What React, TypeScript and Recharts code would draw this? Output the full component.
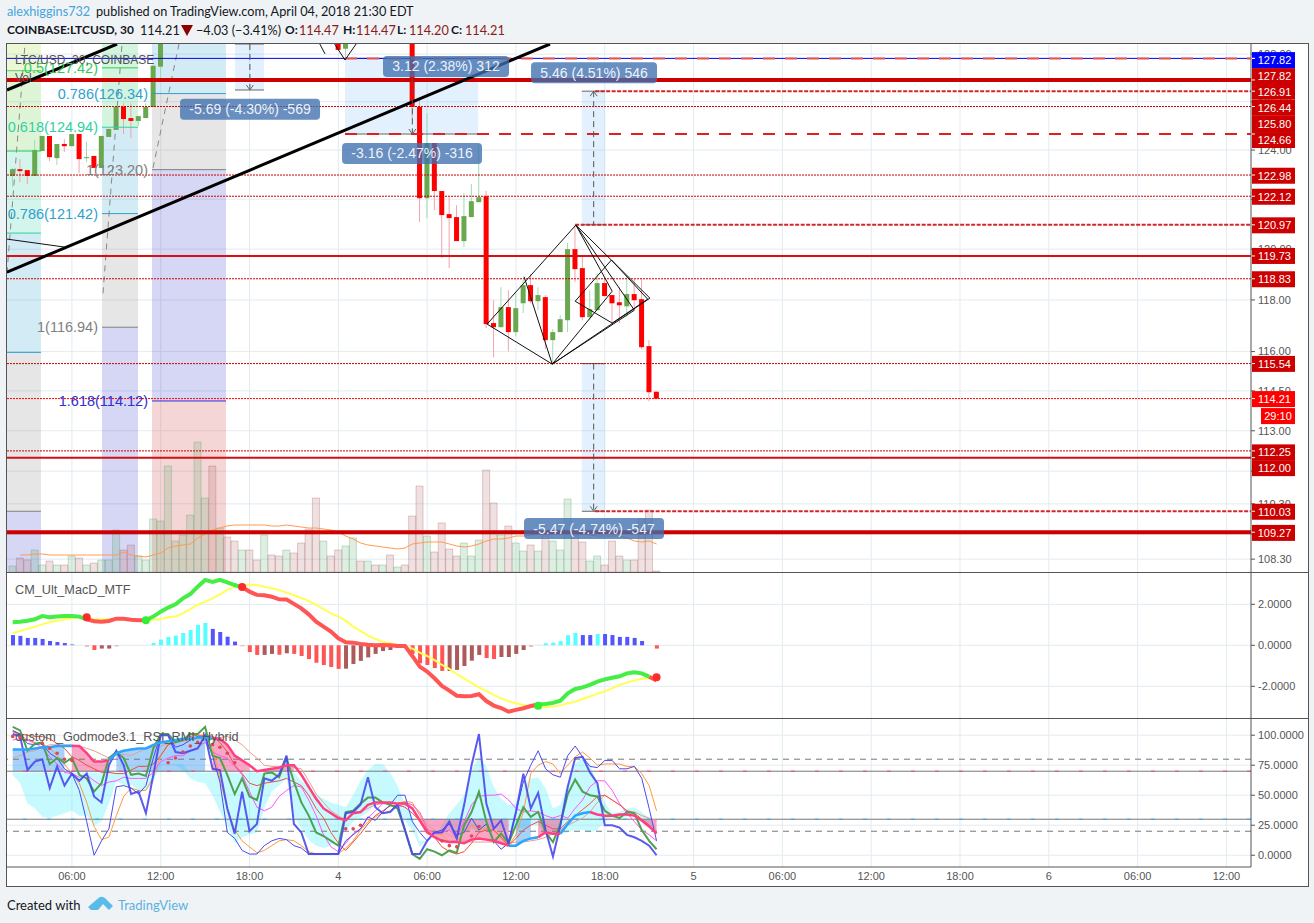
import React from 'react';
import { ComposedChart, Bar, Line, Area, Cell, XAxis, YAxis, CartesianGrid, ReferenceLine, ReferenceArea, ReferenceDot } from 'recharts';

const N = null;
// ---- candles (30 min bars), hidden bars above the visible range are null
const candleO = [122.94,123.22,123.18,122.94,123.96,124.58,123.67,124.25,124.16,124.66,123.67,123.76,123.27,124.54,124.83,125.78,125.32,125.20,125.32,125.78,127.47,
N,N,N,N,N,N,N,N,N,N,N,N,N,N,N,N,N,N,N,N,N,N,N,128.70,128.23,N,N,N,N,N,N,N,N,
128.70,125.78,122.04,124.29,122.33,121.40,121.28,120.32,121.28,121.88,122.12,117.10,116.94,117.72,116.75,117.87,118.58,117.95,118.11,116.44,116.75,117.21,120.00,119.25,117.33,117.60,118.66,118.19,117.91,117.75,118.23,118.03,116.21,114.47];
const candleH = [123.27,123.63,123.18,124.41,124.58,124.58,124.25,124.45,124.66,124.66,124.33,123.76,124.58,124.87,125.78,125.94,125.94,125.40,125.94,127.51,128.60,
N,N,N,N,N,N,N,N,N,N,N,N,N,N,N,N,N,N,N,N,N,N,N,128.80,128.60,N,N,N,N,N,N,N,N,
128.80,126.15,125.53,124.29,122.33,122.08,121.76,122.25,122.61,124.24,122.33,117.99,118.50,118.38,118.26,118.78,119.01,118.50,118.19,116.87,117.41,120.24,120.96,119.72,118.38,119.05,118.86,118.19,118.50,118.94,118.82,118.82,116.44,114.47];
const candleL = [122.49,122.69,122.61,122.94,123.96,123.55,123.39,123.92,124.16,123.06,123.51,123.27,123.27,124.54,124.83,124.66,124.50,124.99,125.32,125.78,126.98,
N,N,N,N,N,N,N,N,N,N,N,N,N,N,N,N,N,N,N,N,N,N,N,128.18,127.80,N,N,N,N,N,N,N,N,
125.28,121.08,121.24,121.56,119.65,119.25,120.32,120.08,121.28,121.88,116.90,115.78,116.94,116.01,116.59,117.49,117.87,117.60,116.09,115.56,116.75,116.75,118.70,117.21,117.21,117.60,118.15,117.02,117.10,117.33,117.72,116.09,114.11,114.20];
const candleC = [123.22,123.14,122.94,124.00,124.58,123.71,124.25,124.16,124.66,123.63,123.71,123.27,124.58,124.87,125.78,125.28,125.20,125.40,125.78,127.51,128.60,
N,N,N,N,N,N,N,N,N,N,N,N,N,N,N,N,N,N,N,N,N,N,N,128.18,128.60,N,N,N,N,N,N,N,N,
125.78,122.04,124.29,122.33,121.36,121.24,120.32,121.32,121.92,122.08,117.06,116.94,117.72,116.75,117.68,118.58,117.95,118.19,116.44,116.75,117.25,120.00,119.21,117.33,117.64,118.66,118.15,117.87,117.79,118.23,117.99,116.17,114.45,114.21];

// ---- volume
const volume = [6,14,12,22,7,11,7,7,16,14,7,9,12,12,42,22,27,16,12,53,51,106,31,37,57,130,74,106,44,35,31,22,22,12,37,17,16,22,19,29,43,74,31,16,22,26,34,11,11,7,7,17,5,7,56,86,36,20,49,23,16,29,16,32,102,69,37,46,29,21,27,21,38,31,22,73,38,30,11,16,7,31,16,12,12,53,62,1];
const volumeUp = 'gRRggRgRgR' + 'gRgggRRggg' + 'gggggggRgR' + 'RgRRgRRgRR' + 'RRgRRggRgR' + 'gRgRRRgRRR' + 'RgggRRgRgg' + 'RgRgggRRgg' + 'RRRgRRRR';
const volumeMa = [N,17,17,18,18,17,17,17,17,17,17,17,17,17,17,20,17,16,15,17,19,24,26,27,28,34,38,42,44,46,47,47,47,47,47,46,46,47,46,45,44,44,43,42,40,36,33,29,27,26,25,24,23,24,28,29,30,30,30,28,26,25,26,28,31,33,33,34,36,36,37,38,38,39,38,39,38,38,37,36,36,36,36,34,31,30,31,28];

// ---- MACD pane
const macdLine = [1.12,1.15,1.20,1.27,1.43,1.37,1.41,1.43,1.43,1.40,1.27,1.17,1.15,1.19,1.30,1.30,1.25,1.22,1.22,1.40,1.64,1.84,2.00,2.29,2.50,2.86,3.19,3.09,3.19,3.07,2.94,2.83,2.62,2.46,2.44,2.37,2.24,2.23,2.02,1.80,1.51,1.15,.91,.67,.34,.15,.13,.07,.03,0,.02,0,-.03,-.03,-.52,-1.04,-1.28,-1.61,-1.98,-2.21,-2.46,-2.49,-2.47,-2.39,-2.72,-2.94,-3.06,-3.24,-3.15,-3.07,-2.96,-2.89,-2.86,-2.81,-2.70,-2.34,-2.13,-2.05,-1.93,-1.77,-1.66,-1.58,-1.51,-1.37,-1.32,-1.37,-1.53,-1.72];
const signalLine = [.59,.70,.81,.91,1.02,1.12,1.20,1.27,1.32,1.37,1.32,1.28,1.27,1.27,1.27,1.27,1.27,1.25,1.24,1.24,1.28,1.37,1.41,1.56,1.77,1.97,2.13,2.29,2.49,2.70,2.86,2.93,2.96,2.94,2.86,2.78,2.70,2.57,2.44,2.31,2.16,1.97,1.76,1.56,1.40,1.20,.91,.70,.47,.31,.18,.10,.03,-.03,-.16,-.36,-.52,-.72,-.96,-1.15,-1.41,-1.61,-1.85,-2.05,-2.24,-2.42,-2.59,-2.73,-2.83,-2.91,-2.98,-3.02,-3.02,-2.99,-2.93,-2.83,-2.75,-2.62,-2.50,-2.37,-2.24,-2.10,-1.93,-1.82,-1.72,-1.63,-1.61,-1.66];
const macdHist = [.50,.46,.36,.36,.31,.21,.16,.11,.07,0,-.08,-.23,-.16,-.16,-.06,0,0,0,0,.11,.28,.41,.47,.60,.75,.99,1.09,.80,.65,.42,.18,-.05,-.33,-.47,-.47,-.42,-.46,-.39,-.42,-.52,-.67,-.85,-.96,-1.06,-1.15,-1.14,-.91,-.76,-.59,-.42,-.28,-.23,-.13,-.13,-.42,-.88,-.96,-1.11,-1.25,-1.25,-1.20,-1.01,-.75,-.47,-.62,-.67,-.57,-.57,-.42,-.23,-.08,.03,.10,.13,.20,.49,.60,.50,.50,.55,.55,.50,.41,.41,.36,.21,0,-.16];
const histTones = 'bbbbbbbbbb' + 'rrddr' + 'bbbb' + 'cccccccc' + 'bbbb' + 'r' + 'rrddrdrrrrrrr' + 'ddddddddd' + 'rrrrr' + 'ddddd' + 'rr' + 'dddd' + 'r' + 'cccccc' + 'bb' + 'c' + 'bbbbbb' + 'b' + 'r';
const histPalette: any = { b: '#5555ff', c: '#55ffff', r: '#ff5555', d: '#ad5a5a' };
const macdGreenRuns = [[0, 10], [18, 31], [71, 86]];
const macdRedRuns = [[10, 18], [31, 71], [86, 87]];
const crossBars = [10, 18, 31, 71, 87];
const crossValues = [1.37, 1.22, 2.85, -2.95, -1.56];
const crossColors = ['#ff2a2a', '#33ee33', '#ff2a2a', '#33ee33', '#ff2a2a'];

// ---- RSI pane
const rsiThick = [101,99,71,78,80,56,74,58,68,62,68,49,44,75,87,75,51,53,35,67,100,100,86,85,87,89,100,72,71,39,18,53,20,26,64,62,67,83,26,19,1,1,1,1,1,35,36,42,65,40,35,36,42,21,1,1,12,19,19,28,14,42,75,101,43,22,29,10,36,68,39,52,21,-1,25,57,81,82,69,60,25,25,23,17,15,12,8,0];
const rsiGreen = [107,104,87,93,94,76,81,77,81,67,64,53,60,81,86,81,67,68,66,89,101,101,94,96,101,101,107,83,81,67,51,64,49,46,68,69,65,81,61,44,33,19,16,12,8,36,37,43,48,48,44,42,39,21,1,-3,5,3,0,4,2,25,36,53,28,11,18,10,25,40,32,36,19,11,26,51,63,53,50,49,37,33,31,36,35,21,12,5];
const rsiThinBlue = [104,101,93,92,93,85,81,72,68,54,28,0,12,22,57,58,56,51,58,81,101,100,90,92,96,99,99,83,61,19,14,4,1,1,8,12,14,13,8,6,1,1,1,1,1,12,17,22,32,29,36,42,50,50,28,19,12,19,21,26,17,19,31,21,26,12,5,10,36,61,75,87,72,67,65,83,91,82,74,73,79,79,72,72,74,64,39,12];
const rsiOrange = [103,100,96,93,93,89,83,76,68,60,44,24,13,15,33,49,56,54,54,65,83,93,94,96,97,99,99,89,64,39,21,12,7,2,4,8,12,13,12,8,3,1,1,1,1,6,12,21,28,32,35,37,43,45,44,33,22,18,17,11,12,19,25,21,22,21,14,8,17,36,68,75,78,76,68,75,82,86,81,75,76,76,76,74,74,68,58,37];
const rsiMagenta = [96,97,96,94,89,82,76,69,68,65,67,62,58,61,62,65,64,64,64,69,78,81,83,83,87,90,94,86,83,81,74,67,53,40,37,40,49,54,58,57,46,33,17,7,3,10,18,22,31,37,43,43,39,44,42,36,22,18,19,21,15,28,42,49,50,50,51,46,39,36,37,36,33,31,33,31,39,46,57,62,62,54,43,35,28,21,17,12];
const rsiSalmon = [81,83,86,87,90,92,92,92,92,91,89,87,84,81,83,84,83,86,89,90,91,93,94,95,96,97,97,98,98,99,96,92,86,81,75,74,74,74,73,72,62,51,44,37,33,29,36,36,39,42,43,44,43,44,42,35,25,21,19,17,14,12,11,11,11,11,10,10,11,11,12,13,15,18,21,25,28,31,36,44,50,46,42,37,36,33,31,29];
const rsiRed = [103,101,100,99,99,97,93,89,82,79,75,72,69,69,68,68,71,74,74,76,83,92,94,97,99,100,100,99,94,86,75,68,60,58,60,61,62,64,61,58,50,39,31,19,10,4,11,18,26,33,37,41,42,40,35,29,21,15,7,3,1,3,10,19,21,21,15,8,14,21,25,28,25,22,22,28,33,38,43,49,50,46,42,37,35,30,25,19];
const rsiBandLine = [88,88,88,89,90,90,91,91,91,91,85,78,78,79,85,87,88,89,89,92,94,95,96,97,97,98,98,97,97,92,83,79,75,70,71,72,73,75,75,67,57,47,39,35,31,29,35,36,42,44,44,44,43,43,39,29,19,15,12,11,11,10,13,14,13,12,10,8,8,12,14,15,19,18,18,26,33,35,36,34,33,33,34,34,33,29,24,18];
const cloudTop = [69,69,69,69,69,69,69,69,69,69,69,69,69,69,69,69,69,69,69,69,76,76,76,76,69,69,69,69,69,69,69,69,69,69,69,69,69,69,69,62,57,50,47,44,42,40,50,62,71,76,76,69,58,42,33,12,12,14,25,35,42,50,71,82,74,57,47,42,43,57,64,65,56,39,42,60,76,82,75,60,44,35,36,39,40,36,31,22];
const cloudBottom = [67,60,43,39,32,31,33,35,37,33,33,25,28,43,62,58,59,54,54,61,75,76,75,71,64,61,60,50,36,25,10,15,17,19,39,53,58,64,33,22,13,8,6,8,14,21,28,32,36,42,42,42,37,29,21,7,12,14,21,21,18,19,22,21,21,22,21,21,22,22,25,25,19,19,18,19,21,21,19,21,28,31,31,32,32,28,25,21];
const rsiPinkRuns = [[8, 13], [27, 67], [71, 74], [78, 87]];
const rsiDotBars = [0,1,4,5,6,7,8,21,22,23,24,25,27,28,29,30,45,46,47,58,59,60,62,63];
const rsiDotValues = [99,98,93,89,85,80,79,77,81,86,91,94,92,90,85,77,22,22,25,12,8,7,16,24];

// ---- axes
const BAR_COUNT = 88;
const xDomain = [-0.77, 167.32];
const timeTicks = [8, 20, 32, 44, 56, 68, 80, 92, 104, 116, 128, 140, 152, 164];
const timeLabels = ['06:00','12:00','18:00','4','06:00','12:00','18:00','5','06:00','12:00','18:00','6','06:00','12:00'];
const priceDomain = [107.84, 128.43];
const priceTicks = [128, 126, 124, 122, 120, 118, 116, 114.5, 113, 111.5, 110.3, 109.2, 108.3];
const macdDomain = [-3.546, 3.527];
const macdTicks = [2, 0, -2];
const rsiDomain = [-9.8, 113.5];
const rsiTicks = [100, 75, 50, 25, 0];

// ---- horizontal levels and price tags
const levelPrices = [127.82, 127.82, 126.91, 126.44, 125.80, 124.66, 122.98, 122.12, 120.97, 119.73, 118.83, 115.54, 114.21, 112.25, 112.00, 110.03, 109.27];
const levelStarts = [-0.77, 44.9, -0.77, 78.7, -0.77, 44.9, -0.77, -0.77, 76, -0.77, -0.77, -0.77, -0.77, -0.77, -0.77, 78.7, -0.77];
const levelColors = ['#0000ee','#e85050','#cc0000','#d02828','#cc0000','#e02020','#cc0000','#cc0000','#d02828','#d81010','#cc0000','#cc0000','#ff0000','#cc0000','#d01010','#d02828','#cc0000'];
const levelWidths = [1, 2, 4, 2, 1, 2, 1, 1, 2, 2, 1, 1, 1, 1, 2, 2, 4];
const levelDashes = ['', '12 10', '', '4 1.5', '2 1', '12 10', '2 1', '2 1', '4 1.5', '', '2 1', '2 1', '2 1', '2 1', '', '4 1.5', ''];
const tagTexts = ['127.82','127.82','126.91','126.44','125.80','124.66','122.98','122.12','120.97','119.73','118.83','115.54','114.21','112.25','112.00','110.03','109.27'];
const tagFills = ['#0000ff','#cc0000','#cc0000','#cc0000','#cc0000','#cc0000','#cc0000','#cc0000','#cc0000','#cc0000','#cc0000','#cc0000','#ff0000','#cc0000','#cc0000','#cc0000','#cc0000'];
const tagShifts = [1.7, 17.7, 11.7, 16.7, 17.5, 6, 0.7, 0.5, 0.5, 0, 0.5, 0.3, 0.5, 1.5, 10.5, 0.5, 0.7];

// ---- fib zones
const fibZoneBars = [[-0.77, 3.82], [12.07, 16.93], [18.82, 28.82]];
const fibZoneEdges = [
  [128.43, 127.30, 123.96, 120.64, 115.97, 110.03, 107.84],
  [128.43, 124.94, 121.42, 116.94, 107.84],
  [128.43, 126.34, 123.20, 114.12, 107.84],
];
const fibZoneColors = [
  ['#99dd33', '#55cc33', '#22cc99', '#2299cc', '#808080', '#3333cc'],
  ['#22cc66', '#2299cc', '#808080', '#3333cc'],
  ['#2299cc', '#808080', '#3333cc', '#cc3333'],
];
const fibLineColors = [
  ['#58d058', '#31c95b', '#2fd1a0', '#2f9fd0', '#808080'],
  ['#2fd1a0', '#2f9fd0', '#808080'],
  ['#2f9fd0', '#808080', '#3030d0'],
];
const fibLinePrices = [[127.30, 123.96, 120.64, 115.97, 110.03], [124.94, 121.42, 116.94], [126.34, 123.20, 114.12]];
const fibTexts = ['0.5(127.42)', '0.618(124.94)', '0.786(121.42)', '1(116.94)', '0.786(126.34)', '1(123.20)', '1.618(114.12)'];
const fibTextPrices = [127.42, 124.94, 121.42, 116.94, 126.34, 123.20, 114.12];
const fibTextBars = [12.07, 12.07, 12.07, 12.07, 18.82, 18.82, 18.82];
const fibTextColors = ['#31c95b', '#2fd1a0', '#2f9fd0', '#808080', '#2f9fd0', '#808080', '#3030d0'];
const fibFans = [[-0.77, 119.05, 1.66, 128.43], [12.2, 118.26, 14.77, 128.43], [18.96, 123.27, 22.47, 128.43]];
const extraGreenLine = [12.07, 16.93, 127.42];

// ---- drawings
const boldTrends = [[-0.77, 126.49, 14.1, 128.43], [-0.77, 119.09, 72.6, 128.43]];
const thinTrends = [
  [-0.77, 120.40, 7.07, 120.08],
  [41.5, 128.43, 42.2, 128.01], [43.5, 128.43, 44.9, 127.75], [44.9, 127.75, 46.4, 128.43],
  [64.1, 117.06, 76.1, 120.96], [72.9, 115.52, 64.1, 117.06], [76.1, 120.96, 86.1, 118.07], [72.9, 115.52, 86.1, 118.07],
  [76.1, 120.96, 81.0, 118.34], [81.0, 118.34, 72.9, 115.52], [76.1, 120.96, 84.0, 117.60], [84.0, 117.60, 72.9, 115.52],
  [76.0, 117.95, 80.9, 119.57], [80.9, 119.57, 85.8, 118.03], [85.8, 118.03, 81.0, 117.10], [81.0, 117.10, 76.0, 117.95],
  [69.1, 118.91, 72.9, 115.52],
];
const boxBars = [[30.04, 33.96], [44.9, 62.9], [76.9, 80.04], [76.9, 80.04]];
const boxPrices = [[128.43, 126.49], [127.82, 124.66], [126.44, 120.97], [115.54, 110.03]];
const boxStems = [32.05, 54, 78.5, 78.5];
const boxArrowUp = [false, false, true, false];
const badgeTexts = ['-5.69 (-4.30%) -569', '3.12 (2.38%) 312', '-3.16 (-2.47%) -316', '5.46 (4.51%) 546', '-5.47 (-4.74%) -547'];
const badgeBars = [32.07, 58.55, 53.96, 78.55, 78.55];
const badgePrices = [125.69, 127.48, 123.86, 127.21, 109.40];
const badgeWidths = [140, 126, 140, 126, 140];

// ---- tables the library reads
const bars = Array.from({ length: BAR_COUNT }, (_, i) => {
  const inRuns = (runs: number[][]) => runs.some(([a, b]) => i >= a && i <= b);
  const fast = rsiBandLine[i];
  const pink = inRuns(rsiPinkRuns);
  const band = fast > 70 ? [70, fast] : fast < 30 ? [fast, 30] : null;
  const dot = rsiDotBars.indexOf(i);
  return {
    i,
    o: candleO[i], h: candleH[i], l: candleL[i], c: candleC[i],
    range: candleH[i] == null ? null : [candleL[i], candleH[i]],
    vol: volume[i], volMa: volumeMa[i],
    macdGreen: inRuns(macdGreenRuns) ? macdLine[i] : null,
    macdRed: inRuns(macdRedRuns) ? macdLine[i] : null,
    signal: signalLine[i], hist: macdHist[i],
    thick: rsiThick[i], green: rsiGreen[i], thin: rsiThinBlue[i], orange: rsiOrange[i],
    magenta: rsiMagenta[i], salmon: rsiSalmon[i], red: rsiRed[i],
    fastPink: pink ? fast : null, fastSky: !pink || inRuns(rsiPinkRuns.map(([a, b]) => [a, a])) || inRuns(rsiPinkRuns.map(([a, b]) => [b, b])) ? fast : null,
    bandPink: pink ? band : null, bandSky: !pink ? band : null,
    cloud: [cloudBottom[i], cloudTop[i]],
    rsiDot: dot >= 0 ? rsiDotValues[dot] : null,
  };
});
const candleBars = bars.filter((b) => b.range);

const FONT = '"Liberation Sans", Arial, sans-serif';
const HEAD_FONT = 'Lato, sans-serif';
const GRID = '#e3ebf1';
const AXIS = '#555555';
const axisTick = { fill: '#555555', fontSize: 11, fontFamily: FONT };
const CHART_W = 1301;
const AXIS_W = 57;

const CandleShape = (p: any) => {
  const { x, y, width, height, payload } = p;
  if (!payload || payload.h == null) return null;
  const hi = Math.log(payload.h), lo = Math.log(payload.l);
  const at = (v: number) => y + (height * (hi - Math.log(v))) / (hi - lo);
  const top = at(Math.max(payload.o, payload.c));
  const bottom = at(Math.min(payload.o, payload.c));
  const up = payload.c >= payload.o;
  const cx = x + width / 2;
  return (
    <g>
      <line x1={cx} x2={cx} y1={y} y2={y + height} stroke={up ? '#a3d9b6' : '#f4a3ad'} strokeWidth={1} />
      <rect x={x} y={top} width={width} height={Math.max(bottom - top, 1)} fill={up ? '#6aa84f' : '#ff0000'} />
    </g>
  );
};

const TagLabel = (p: any) => {
  const vb = p.viewBox || p;
  const left = vb.x + vb.width + 1;
  const cy = vb.y + p.shift;
  return (
    <g>
      <rect x={left} y={cy - 8} width={43} height={16} fill={p.fill} />
      <line x1={left} x2={left + 3} y1={vb.y} y2={vb.y} stroke="#ffffff" />
      <text x={left + 22.5} y={cy + 4} textAnchor="middle" fill="#fff" fontSize={11} fontFamily={FONT}>{p.text}</text>
      {p.extra ? (
        <g>
          <rect x={left + 9} y={cy + 9} width={34} height={16} fill={p.fill} />
          <text x={left + 26} y={cy + 21} textAnchor="middle" fill="#fff" fontSize={11} fontFamily={FONT}>{p.extra}</text>
        </g>
      ) : null}
    </g>
  );
};

const FibText = (p: any) => {
  const vb = p.viewBox || p;
  return (
    <text x={vb.x - 4} y={vb.y + 5} textAnchor="end" fill={p.color} fontSize={14.5} fontFamily={FONT}>{p.text}</text>
  );
};

const Badge = (p: any) => {
  const vb = p.viewBox || p;
  const cx = vb.x + (vb.width || 0) / 2;
  const cy = vb.y + (vb.height || 0) / 2;
  return (
    <g>
      <rect x={cx - p.w / 2} y={cy - 10.5} width={p.w} height={21} rx={4} fill="#3f6fb0" fillOpacity={0.78} />
      <text x={cx} y={cy + 5} textAnchor="middle" fill="#fff" fillOpacity={0.9} fontSize={14} fontFamily={FONT}>{p.text}</text>
    </g>
  );
};

const ArrowHead = (p: any) => {
  const d = p.up ? 5 : -5;
  return <polyline points={`${p.cx - 3.5},${p.cy + d} ${p.cx},${p.cy} ${p.cx + 3.5},${p.cy + d}`} fill="none" stroke="#666" strokeWidth={1} />;
};

function Layer({ top, height, data, axisRoom = AXIS_W, children }: any) {
  return (
    <div style={{ position: 'absolute', left: 7, top }}>
      <ComposedChart width={CHART_W} height={height} data={data} margin={{ top: 0, right: axisRoom, bottom: 0, left: 0 }}>
        {children}
      </ComposedChart>
    </div>
  );
}

const hiddenX = <XAxis dataKey="i" type="number" domain={xDomain} ticks={timeTicks} hide allowDataOverflow />;
const hiddenPrice = <YAxis type="number" scale="log" domain={priceDomain} hide allowDataOverflow />;

function Text({ x, y, color = '#131722', size = 12.7, bold = false, family = HEAD_FONT, children }: any) {
  return <span style={{ position: 'absolute', left: x, top: y, color, fontSize: size, fontWeight: bold ? 700 : 400, fontFamily: family, whiteSpace: 'pre', lineHeight: '16px' }}>{children}</span>;
}

const seg = (x1: number, y1: number, x2: number, y2: number) => [{ x: x1, y: y1 }, { x: x2, y: y2 }] as any;

export default function App() {
  const zoneAreas: any[] = [];
  fibZoneBars.forEach((b, z) => {
    fibZoneColors[z].forEach((color, k) => {
      zoneAreas.push(
        <ReferenceArea key={`z${z}-${k}`} x1={b[0]} x2={b[1]} y1={fibZoneEdges[z][k]} y2={fibZoneEdges[z][k + 1]} fill={color} fillOpacity={0.2} stroke="none" ifOverflow="visible" />
      );
    });
  });

  return (
    <div style={{ position: 'absolute', left: 0, top: 0, width: 1314, height: 923, background: '#f0f3f6', overflow: 'hidden' }}>
      {/* header */}
      <Text x={7} y={3} color="#45a5db">alexhiggins732</Text>
      <Text x={96} y={3}>published on TradingView.com, April 04, 2018 21:30 EDT</Text>
      <Text x={7} y={22} size={12} bold>COINBASE:LTCUSD, 30</Text>
      <Text x={140} y={22}>114.21</Text>
      <svg style={{ position: 'absolute', left: 181, top: 25 }} width={12} height={11}><polygon points="0,0 12,0 6,11" fill="#8b0000" /></svg>
      <Text x={196} y={22}>−4.03 (−3.41%)</Text>
      <Text x={285} y={22} size={12} bold>O:</Text><Text x={299} y={22} color="#8b1a1a">114.47</Text>
      <Text x={343} y={22} size={12} bold>H:</Text><Text x={356} y={22} color="#8b1a1a">114.47</Text>
      <Text x={397} y={22} size={12} bold>L:</Text><Text x={409} y={22} color="#8b1a1a">114.20</Text>
      <Text x={451} y={22} size={12} bold>C:</Text><Text x={465} y={22} color="#8b1a1a">114.21</Text>

      {/* frame */}
      <div style={{ position: 'absolute', left: 6, top: 43, width: 1301, height: 842, background: '#fff', border: '1px solid #555' }} />

      {/* price pane: grid and axis */}
      <Layer top={44} height={528} data={bars} axisRoom={0}>
        <CartesianGrid stroke={GRID} horizontalValues={priceTicks} verticalValues={timeTicks} />
        {hiddenX}
        <YAxis orientation="right" width={AXIS_W} type="number" scale="log" domain={priceDomain} ticks={priceTicks} interval={0} allowDataOverflow tick={axisTick} tickSize={4} tickMargin={3} stroke={AXIS} tickFormatter={(v: number) => v.toFixed(2)} />
      </Layer>

      {/* price pane: fib zones and measure boxes */}
      <Layer top={44} height={528} data={bars}>
        {hiddenX}
        {hiddenPrice}
        {zoneAreas}
        {boxBars.map((b, k) => (
          <ReferenceArea key={`b${k}`} x1={b[0]} x2={b[1]} y1={boxPrices[k][0]} y2={boxPrices[k][1]} fill="#2196f3" fillOpacity={0.13} stroke="none" ifOverflow="visible" />
        ))}
      </Layer>

      {/* price pane: volume */}
      <Layer top={44} height={528} data={bars}>
        {hiddenX}
        <YAxis type="number" domain={[0, 528]} hide allowDataOverflow />
        <Bar dataKey="vol" barSize={7} isAnimationActive={false} strokeWidth={1}>
          {bars.map((b) => {
            const up = volumeUp[b.i] === 'g';
            return <Cell key={b.i} fill={up ? '#4f9e5f' : '#a85a5a'} fillOpacity={0.18} stroke={up ? '#4f9e5f' : '#a85a5a'} strokeOpacity={0.3} />;
          })}
        </Bar>
        <Line dataKey="volMa" stroke="#ff9a50" strokeWidth={1} dot={false} isAnimationActive={false} />
      </Layer>

      {/* price pane: candles */}
      <Layer top={44} height={528} data={candleBars}>
        {hiddenX}
        {hiddenPrice}
        <Bar dataKey="range" barSize={5} shape={<CandleShape />} isAnimationActive={false} />
      </Layer>

      {/* price pane: drawings and tags */}
      <Layer top={44} height={528} data={bars}>
        {hiddenX}
        {hiddenPrice}
        {fibFans.map((t, k) => (
          <ReferenceLine key={`fan${k}`} segment={seg(t[0], t[1], t[2], t[3])} stroke="#888" strokeWidth={1} strokeDasharray="6 5" ifOverflow="visible" />
        ))}
        {fibZoneBars.map((b, z) => fibLinePrices[z].map((p, k) => (
          <ReferenceLine key={`fl${z}-${k}`} segment={seg(b[0], p, b[1], p)} stroke={fibLineColors[z][k]} strokeWidth={1} ifOverflow="visible" />
        )))}
        <ReferenceLine segment={seg(extraGreenLine[0], extraGreenLine[2], extraGreenLine[1], extraGreenLine[2])} stroke="#31c95b" strokeWidth={1} ifOverflow="visible" />
        {fibTexts.map((t, k) => (
          <ReferenceDot key={`ft${k}`} x={fibTextBars[k]} y={fibTextPrices[k]} r={0} fill="none" stroke="none" ifOverflow="visible"
            label={(p: any) => <FibText {...p} text={t} color={fibTextColors[k]} />} />
        ))}
        {boxBars.map((b, k) => (
          <ReferenceLine key={`be${k}`} segment={seg(b[0], boxPrices[k][1], b[1], boxPrices[k][1])} stroke="#666" strokeWidth={1} ifOverflow="visible" />
        ))}
        {boxBars.map((b, k) => (
          <ReferenceLine key={`bf${k}`} segment={seg(b[0], boxPrices[k][0], b[1], boxPrices[k][0])} stroke="#666" strokeWidth={1} ifOverflow="visible" />
        ))}
        {levelPrices.map((p, k) => (
          <ReferenceLine key={`lv${k}`} segment={seg(levelStarts[k], p, xDomain[1], p)} stroke={levelColors[k]} strokeWidth={levelWidths[k]} strokeDasharray={levelDashes[k] || undefined} ifOverflow="visible"
            label={(lp: any) => <TagLabel {...lp} text={tagTexts[k]} fill={tagFills[k]} shift={tagShifts[k]} extra={tagTexts[k] === '114.21' ? '29:10' : undefined} />} />
        ))}
        {boldTrends.map((t, k) => (
          <ReferenceLine key={`bt${k}`} segment={seg(t[0], t[1], t[2], t[3])} stroke="#000" strokeWidth={3} ifOverflow="visible" />
        ))}
        {thinTrends.map((t, k) => (
          <ReferenceLine key={`tt${k}`} segment={seg(t[0], t[1], t[2], t[3])} stroke="#111" strokeWidth={1} ifOverflow="visible" />
        ))}
        {boxStems.map((x, k) => (
          <ReferenceLine key={`st${k}`} segment={seg(x, boxPrices[k][0], x, boxPrices[k][1])} stroke="#555" strokeWidth={1} strokeDasharray="6 4" ifOverflow="visible" />
        ))}
        {boxStems.map((x, k) => (
          <ReferenceDot key={`ar${k}`} x={x} y={boxArrowUp[k] ? boxPrices[k][0] : boxPrices[k][1]} r={0} ifOverflow="visible" shape={(p: any) => <ArrowHead {...p} up={boxArrowUp[k]} />} />
        ))}
        {badgeTexts.map((t, k) => (
          <ReferenceDot key={`bd${k}`} x={badgeBars[k]} y={badgePrices[k]} r={0} fill="none" stroke="none" ifOverflow="visible"
            label={(p: any) => <Badge {...p} text={t} w={badgeWidths[k]} />} />
        ))}
      </Layer>
      <Text x={15} y={52} color="#555" size={12} family={FONT}>LTC/USD, 30, COINBASE</Text>
      <Text x={15} y={70} color="#555" size={12} family={FONT}>Vol</Text>

      <div style={{ position: 'absolute', left: 7, top: 572, width: 1301, height: 1, background: '#555' }} />

      {/* MACD pane */}
      <Layer top={573} height={145} data={bars} axisRoom={0}>
        <CartesianGrid stroke={GRID} horizontalValues={macdTicks} verticalValues={timeTicks} />
        {hiddenX}
        <YAxis orientation="right" width={AXIS_W} type="number" domain={macdDomain} ticks={macdTicks} interval={0} allowDataOverflow tick={axisTick} tickSize={4} tickMargin={3} stroke={AXIS} tickFormatter={(v: number) => v.toFixed(4)} />
        <Bar dataKey="hist" barSize={4} isAnimationActive={false}>
          {bars.map((b) => (
            <Cell key={b.i} fill={histPalette[histTones[b.i]]} fillOpacity={Math.abs(b.hist) < 0.09 ? 0.45 : 1} />
          ))}
        </Bar>
        <Line dataKey="signal" stroke="#ffff55" strokeWidth={2} dot={false} isAnimationActive={false} />
        <Line dataKey="macdGreen" stroke="#44ee44" strokeWidth={4} dot={false} isAnimationActive={false} />
        <Line dataKey="macdRed" stroke="#ff5555" strokeWidth={4} dot={false} isAnimationActive={false} />
        {crossBars.map((x, k) => (
          <ReferenceDot key={`cr${k}`} x={x} y={crossValues[k]} r={4} fill={crossColors[k]} stroke="none" ifOverflow="visible" />
        ))}
      </Layer>
      <Text x={15} y={582} color="#555" size={12.7} family={FONT}>CM_Ult_MacD_MTF</Text>

      <div style={{ position: 'absolute', left: 7, top: 718, width: 1301, height: 1, background: '#555' }} />

      {/* RSI pane */}
      <Layer top={719} height={167} data={bars} axisRoom={0}>
        <CartesianGrid stroke={GRID} horizontalValues={rsiTicks} verticalValues={timeTicks} />
        <XAxis dataKey="i" type="number" domain={xDomain} ticks={timeTicks} interval={0} height={19} allowDataOverflow tick={axisTick} tickSize={0} tickMargin={5} stroke={AXIS} tickFormatter={(v: number) => timeLabels[timeTicks.indexOf(v)]} />
        <YAxis orientation="right" width={AXIS_W} type="number" domain={rsiDomain} ticks={rsiTicks} interval={0} allowDataOverflow tick={axisTick} tickSize={4} tickMargin={3} stroke={AXIS} tickFormatter={(v: number) => v.toFixed(4)} />
        <Area dataKey="cloud" fill="#55f0ff" fillOpacity={0.33} stroke="none" isAnimationActive={false} />
        <Area dataKey="bandSky" fill="#3a9cf5" fillOpacity={0.45} stroke="none" isAnimationActive={false} />
        <Area dataKey="bandPink" fill="#f2387f" fillOpacity={0.45} stroke="none" isAnimationActive={false} />
        <ReferenceLine y={80} stroke="#777" strokeDasharray="6 5" />
        <ReferenceLine y={70} stroke="#777" />
        <ReferenceLine y={70} stroke="#ff3f80" strokeDasharray="4 20" />
        <ReferenceLine y={30} stroke="#777" />
        <ReferenceLine y={30} stroke="#29a6ff" strokeDasharray="4 20" />
        <ReferenceLine y={20} stroke="#777" strokeDasharray="6 5" />
        <Line dataKey="salmon" stroke="#e8a08c" strokeWidth={1} dot={false} isAnimationActive={false} />
        <Line dataKey="orange" stroke="#ff9a3c" strokeWidth={1} dot={false} isAnimationActive={false} />
        <Line dataKey="magenta" stroke="#ff55ff" strokeWidth={1} dot={false} isAnimationActive={false} />
        <Line dataKey="red" stroke="#f0503c" strokeWidth={1} dot={false} isAnimationActive={false} />
        <Line dataKey="thin" stroke="#4a4af0" strokeWidth={1} dot={false} isAnimationActive={false} />
        <Line dataKey="green" stroke="#4ea24e" strokeWidth={2} dot={false} isAnimationActive={false} />
        <Line dataKey="thick" stroke="#4848ee" strokeOpacity={0.9} strokeWidth={2} dot={false} isAnimationActive={false} />
        <Line dataKey="fastSky" stroke="#29a6ff" strokeWidth={2.5} dot={false} isAnimationActive={false} />
        <Line dataKey="fastPink" stroke="#ff3f80" strokeWidth={2.5} dot={false} isAnimationActive={false} />
        <Line dataKey="rsiDot" stroke="none" dot={{ r: 1.8, fill: '#e0455a', stroke: 'none' }} isAnimationActive={false} />
      </Layer>
      <Text x={15} y={729} color="#555" size={12.7} family={FONT}>custom_Godmode3.1_RSI_RMI_Hybrid</Text>

      {/* footer */}
      <Text x={7} y={897} size={13}>Created with</Text>
      <svg style={{ position: 'absolute', left: 88, top: 896 }} width={25} height={16}>
        <path d="M0 11 L7 5 Q9 3 12 1 Q15 0 18 3 L25 10 L21 14 L15 8 L10 14 L3 14 Z" fill="#5bbbe8" />
      </svg>
      <Text x={118} y={897} size={13} color="#58b2e0">TradingView</Text>
    </div>
  );
}
